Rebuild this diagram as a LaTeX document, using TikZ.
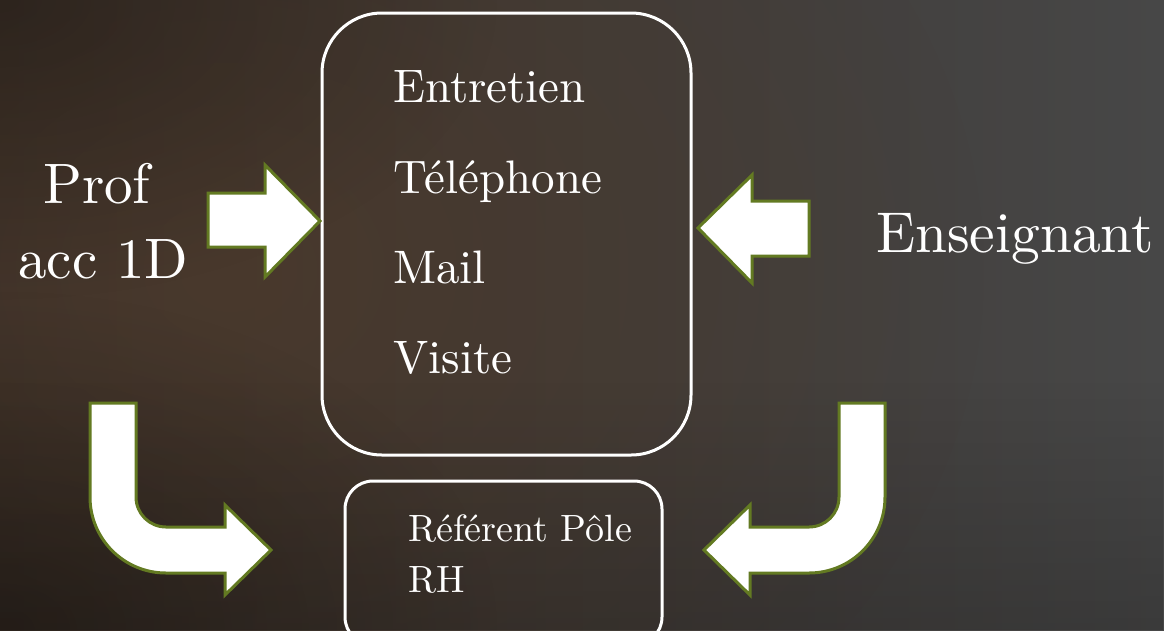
\documentclass[tikz,border=0pt]{standalone}
\usepackage{fontspec}
\setmainfont{lmroman10-regular}[Extension=.otf]
\usetikzlibrary{fadings}
\definecolor{arrowline}{HTML}{637A22}
\definecolor{bgleft}{HTML}{372E28}
\definecolor{bgright}{HTML}{474747}
\definecolor{glowc}{HTML}{4E3B2C}
\tikzfading[name=glowfade, inner color=transparent!25, outer color=transparent!100]
\tikzfading[name=darkfade, inner color=transparent!72, outer color=transparent!100]
\tikzfading[name=bottomfade, top color=transparent!100, bottom color=transparent!82]
\begin{document}
\begin{tikzpicture}[x=1pt,y=-1pt,
  blockarrow/.style={fill=white, draw=arrowline, line width=3pt, line join=miter},
  roundbox/.style={draw=white, line width=3pt, inner sep=0pt},
  lbl/.style={text=white, anchor=base west, inner sep=0pt}]
\useasboundingbox (0,0) rectangle (1164,630);
\clip (0,0) rectangle (1164,630);
% background
\shade[left color=bgleft, right color=bgright] (0,0) rectangle (1164,630);
\fill[glowc, path fading=glowfade] (230,270) ellipse [x radius=760, y radius=620];
\fill[black, path fading=darkfade] (0,0) ellipse [x radius=500, y radius=300];
\fill[black, path fading=darkfade] (0,630) ellipse [x radius=500, y radius=340];
\fill[black, path fading=bottomfade] (0,380) rectangle (1164,630);
% boxes
\node[roundbox, rounded corners=60pt, minimum width=369pt, minimum height=442pt] (channels) at (506.5,234) {};
\node[roundbox, rounded corners=28pt, minimum width=317pt, minimum height=164pt] (rh) at (503.5,563) {};
% texts in the big box
\node[lbl, font=\fontsize{47}{47}\selectfont] (t1) at (393,102) {Entretien};
\node[lbl, font=\fontsize{47}{47}\selectfont] (t2) at (393,193) {Téléphone};
\node[lbl, font=\fontsize{47}{47}\selectfont] (t3) at (393,283) {Mail};
\node[lbl, font=\fontsize{47}{47}\selectfont] (t4) at (393,373) {Visite};
% side texts
\node[lbl, font=\fontsize{57}{57}\selectfont] (prof1) at (43,203) {Prof};
\node[lbl, font=\fontsize{57}{57}\selectfont] (prof2) at (18,278) {acc 1D};
\node[lbl, font=\fontsize{57.5}{57.5}\selectfont] (ens) at (876,252) {Enseignant};
% small box text
\node[lbl, font=\fontsize{38}{38}\selectfont] (r1) at (408,541) {Référent Pôle};
\node[lbl, font=\fontsize{38}{38}\selectfont] (r2) at (408,592) {RH};
% straight arrows
\draw[blockarrow] (208,193) -- (265,193) -- (265,165) -- (320,221) -- (265,277) -- (265,247) -- (208,247) -- cycle;
\draw[blockarrow] (809,201) -- (752,201) -- (752,175) -- (698,228) -- (752,283) -- (752,256) -- (809,256) -- cycle;
% bent arrows
\draw[blockarrow] (90,403) -- (136,403) -- (136,497) .. controls (136,513.6) and (149.4,527) .. (166,527)
  -- (225,527) -- (225,505) -- (271,550) -- (225,595) -- (225,573) -- (166,573)
  .. controls (124,573) and (90,539) .. (90,497) -- cycle;
\draw[blockarrow] (885,403) -- (839,403) -- (839,497) .. controls (839,513.6) and (825.6,527) .. (809,527)
  -- (750,527) -- (750,505) -- (704,550) -- (750,595) -- (750,573) -- (809,573)
  .. controls (851,573) and (885,539) .. (885,497) -- cycle;
\end{tikzpicture}
\end{document}
